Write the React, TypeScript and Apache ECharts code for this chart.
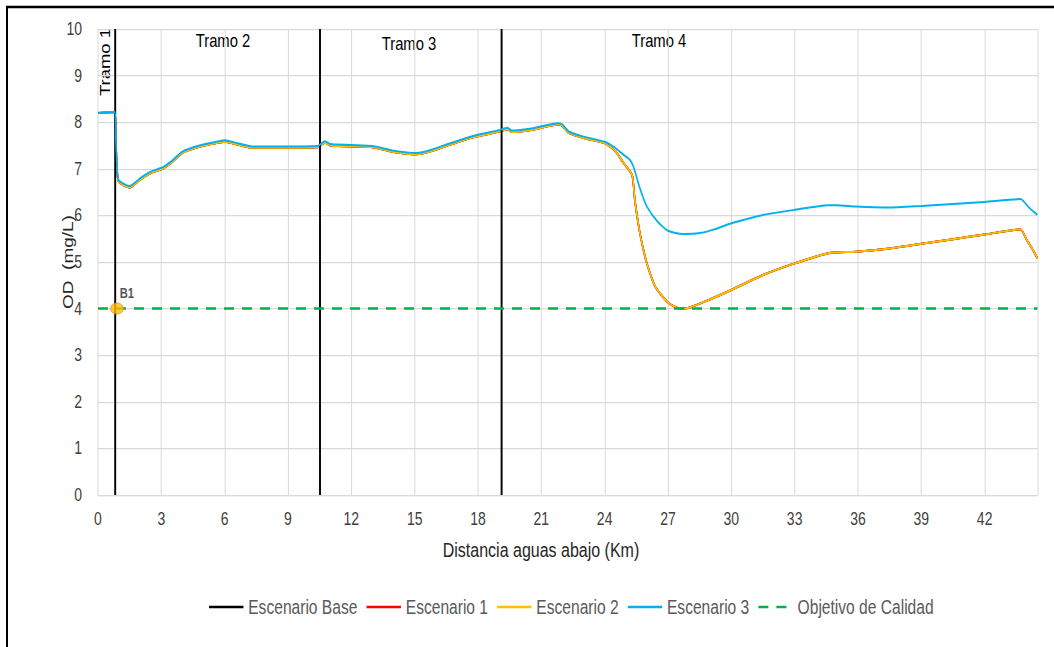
import React, { useEffect, useRef } from "react";
import * as echarts from "echarts";

const xTicksMax = 44.5;
const tramoBoundaries = [0.8, 10.5, 19.1];
const tramoLabels = ["Tramo 1", "Tramo 2", "Tramo 3", "Tramo 4"];
const objetivoCalidad = 4;
const puntoB1: [number, number] = [0.9, 4];

// Escenario 2 (yellow) – km, OD
const escenario2: [number, number][] = [
  [0, 8.2], [0.8, 8.22], [0.85, 7.55], [0.95, 6.75], [1.2, 6.65], [1.5, 6.6],
  [2.0, 6.77], [2.5, 6.91], [3.1, 7.01], [3.5, 7.14], [4.0, 7.34], [4.8, 7.47],
  [5.5, 7.54], [6.0, 7.58], [6.6, 7.52], [7.3, 7.45], [8.5, 7.45], [10.4, 7.46],
  [10.75, 7.56], [11.0, 7.5], [12.0, 7.48], [13.0, 7.46], [14.0, 7.36], [15.1, 7.31],
  [15.8, 7.38], [16.7, 7.52], [17.9, 7.69], [19.0, 7.8], [19.4, 7.85], [19.6, 7.79],
  [20.6, 7.84], [21.8, 7.95], [22.0, 7.92], [22.3, 7.77], [23.0, 7.66], [24.0, 7.55],
  [24.5, 7.38], [24.9, 7.12], [25.3, 6.87], [25.43, 6.33], [25.67, 5.62], [26.0, 4.97],
  [26.4, 4.47], [27.0, 4.13], [27.57, 4.0], [28.0, 4.02], [29.0, 4.2], [30.0, 4.4],
  [31.5, 4.72], [33.0, 4.97], [34.6, 5.19], [35.9, 5.22], [37.5, 5.29], [39.0, 5.39],
  [40.5, 5.49], [42.0, 5.59], [43.7, 5.7], [44.0, 5.47], [44.3, 5.25], [44.5, 5.08],
];

// Escenario 1 and Escenario Base coincide with Escenario 2 in the picture
const escenario1: [number, number][] = escenario2;
const escenarioBase: [number, number][] = escenario2;

// Escenario 3 (blue)
const escenario3: [number, number][] = [
  [0, 8.2], [0.8, 8.22], [0.85, 7.58], [0.95, 6.78], [1.2, 6.68], [1.5, 6.63],
  [2.0, 6.8], [2.5, 6.94], [3.1, 7.04], [3.5, 7.17], [4.0, 7.37], [4.8, 7.5],
  [5.5, 7.57], [6.0, 7.61], [6.6, 7.55], [7.3, 7.48], [8.5, 7.48], [10.4, 7.49],
  [10.75, 7.59], [11.0, 7.53], [12.0, 7.51], [13.0, 7.49], [14.0, 7.39], [15.1, 7.34],
  [15.8, 7.41], [16.7, 7.55], [17.9, 7.72], [19.0, 7.83], [19.4, 7.88], [19.6, 7.82],
  [20.6, 7.87], [21.8, 7.98], [22.0, 7.95], [22.3, 7.8], [23.0, 7.69], [24.0, 7.58],
  [24.5, 7.45], [24.9, 7.3], [25.2, 7.19], [25.36, 7.05], [25.7, 6.54], [26.0, 6.19],
  [26.5, 5.87], [27.0, 5.67], [27.7, 5.6], [28.5, 5.62], [29.2, 5.7], [30.0, 5.83],
  [31.5, 6.01], [33.0, 6.12], [34.6, 6.22], [35.0, 6.22], [35.9, 6.19], [37.5, 6.17],
  [39.0, 6.2], [42.0, 6.29], [43.7, 6.35], [44.1, 6.17], [44.5, 6.01],
];

const FONT = '"Liberation Sans", Arial, sans-serif';
const SQUISH = 0.8; // the reference picture is horizontally condensed
const W = 1054 / SQUISH;
const H = 647;

export default function App() {
  const ref = useRef<HTMLDivElement>(null);
  useEffect(() => {
    if (!ref.current) return;
    const chart = echarts.init(ref.current, undefined, { renderer: "svg" });
    const lineSeries = (name: string, data: [number, number][], color: string, z: number) => ({
      name,
      type: "line",
      data,
      symbol: "none",
      smooth: 0.2,
      z,
      lineStyle: { color, width: 2 },
      itemStyle: { color },
    });
    const tramoText = (x: number, y: number, text: string) => ({
      type: "text",
      x: x / SQUISH,
      y,
      style: { text, fontFamily: FONT, fontSize: 18.5, fill: "#000000", align: "center", verticalAlign: "middle" },
    });
    chart.setOption({
      animation: false,
      backgroundColor: "#ffffff",
      grid: { left: 98 / SQUISH, right: 17 / SQUISH, top: 29, bottom: 152, containLabel: false },
      xAxis: {
        type: "value",
        min: 0,
        max: xTicksMax,
        interval: 3,
        axisLine: { show: true, lineStyle: { color: "#d9d9d9", width: 1.25 } },
        axisTick: { show: false },
        axisLabel: {
          color: "#404040",
          fontFamily: FONT,
          fontSize: 17.5,
          margin: 15,
          showMaxLabel: false,
        },
        splitLine: { show: true, lineStyle: { color: "#d9d9d9", width: 1.25 } },
      },
      yAxis: {
        type: "value",
        min: 0,
        max: 10,
        interval: 1,
        axisLine: { show: false },
        axisTick: { show: false },
        axisLabel: { color: "#404040", fontFamily: FONT, fontSize: 17.5, margin: 20 },
        splitLine: { show: true, lineStyle: { color: "#d9d9d9", width: 1.25 } },
      },
      legend: {
        left: 204 / SQUISH,
        top: 592,
        itemWidth: 43,
        itemHeight: 14,
        itemGap: 10,
        itemStyle: { opacity: 0 },
        lineStyle: { width: 2.6 },
        textStyle: { color: "#595959", fontFamily: FONT, fontSize: 19.5, padding: [0, 0, 0, 1] },
        data: ["Escenario Base", "Escenario 1", "Escenario 2", "Escenario 3", "Objetivo de Calidad"],
      },
      series: [
        {
          ...lineSeries("Escenario Base", escenarioBase, "#000000", 2),
          markLine: {
            silent: true,
            symbol: "none",
            label: { show: false },
            lineStyle: { color: "#000000", width: 2.4, type: "solid" },
            data: tramoBoundaries.map((x) => ({ xAxis: x })),
          },
        },
        lineSeries("Escenario 1", escenario1, "#ff0000", 3),
        lineSeries("Escenario 2", escenario2, "#ffc000", 4),
        lineSeries("Escenario 3", escenario3, "#00b0f0", 5),
        {
          name: "Objetivo de Calidad",
          type: "line",
          data: [[0, objetivoCalidad], [xTicksMax, objetivoCalidad]],
          symbol: "none",
          z: 6,
          lineStyle: { color: "#00b050", width: 2.5, type: [12.5, 10] },
          itemStyle: { color: "#00b050" },
        },
        {
          name: "B1",
          type: "scatter",
          data: [puntoB1],
          symbol: "circle",
          symbolSize: [16, 11],
          z: 7,
          itemStyle: { color: "#ffc000", borderColor: "#ed7d31", borderWidth: 1 },
          label: {
            show: true,
            position: [12, -16],
            formatter: "B1",
            fontWeight: "bold",
            fontFamily: FONT,
            fontSize: 14,
            color: "#262626",
          },
        },
      ],
      graphic: [
        {
          type: "rect",
          shape: { x: 7 / SQUISH, y: 7, width: 1500, height: 700 },
          style: { fill: "none", stroke: "#000000", lineWidth: 2.5 },
          silent: true,
        },
        {
          type: "text",
          x: 105 / SQUISH,
          y: 62,
          rotation: Math.PI / 2,
          style: {
            text: tramoLabels[0],
            fontFamily: FONT,
            fontSize: 18.5,
            fill: "#000000",
            align: "center",
            verticalAlign: "middle",
          },
        },
        tramoText(223, 41, tramoLabels[1]),
        tramoText(409, 44, tramoLabels[2]),
        tramoText(659, 41, tramoLabels[3]),
        {
          type: "text",
          x: 68 / SQUISH,
          y: 262,
          rotation: Math.PI / 2,
          style: {
            text: "OD  (mg/L)",
            fontFamily: FONT,
            fontSize: 19,
            fill: "#262626",
            align: "center",
            verticalAlign: "middle",
          },
        },
        {
          type: "text",
          x: 541 / SQUISH,
          y: 550,
          style: {
            text: "Distancia aguas abajo (Km)",
            fontFamily: FONT,
            fontSize: 20,
            fill: "#262626",
            align: "center",
            verticalAlign: "middle",
          },
        },
      ],
    });
    return () => chart.dispose();
  }, []);
  return (
    <div
      ref={ref}
      style={{
        position: "fixed",
        left: 0,
        top: 0,
        width: W,
        height: H,
        background: "#fff",
        transform: `scaleX(${SQUISH})`,
        transformOrigin: "0 0",
      }}
    />
  );
}
